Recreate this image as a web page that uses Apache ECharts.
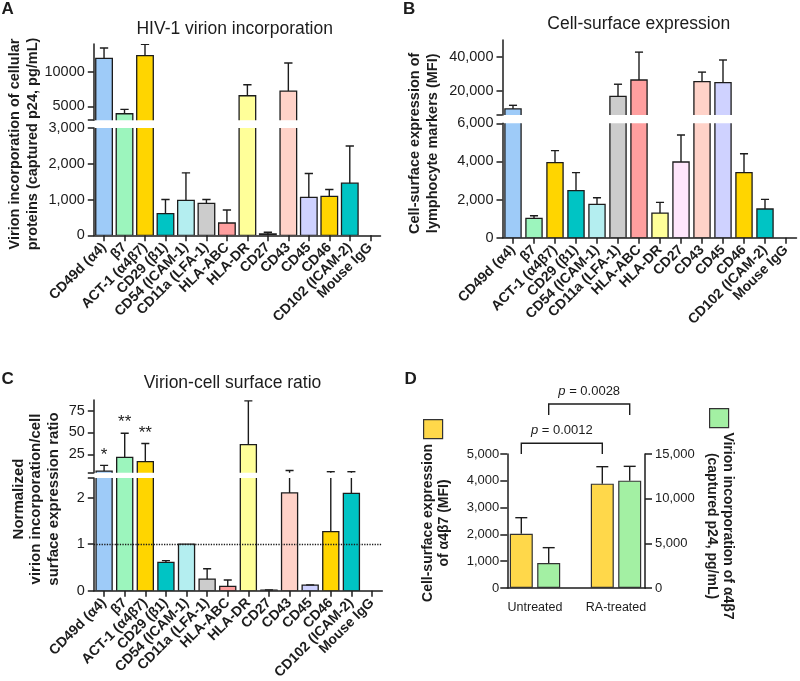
<!DOCTYPE html>
<html><head><meta charset="utf-8">
<script src="https://cdn.jsdelivr.net/npm/echarts@6/dist/echarts.min.js"></script>
<style>html,body{margin:0;padding:0;background:#fff}#c{width:800px;height:681px}</style>
</head><body><div id="c"></div>
<script>
// ---------- data ----------
const categories = ['CD49d (α4)','β7','ACT-1 (α4β7)','CD29 (β1)','CD54 (ICAM-1)','CD11a (LFA-1)','HLA-ABC','HLA-DR','CD27','CD43','CD45','CD46','CD102 (ICAM-2)','Mouse IgG'];
const barColors = ['#9ecbf8','#9cf5bd','#ffd500','#00c4c4','#b4eef0','#cccccc','#ff9f9f','#ffff99','#ffe6fb','#ffd2c8','#cfd2ff','#ffd500','#00c4c4','#ffffff'];

const virionIncorporation    = [11930, 3930, 12310, 604, 975, 892, 344, 6530, 37, 7200, 1059, 1087, 1458, 0];
const virionIncorporationErr = [13420, 4560, 13950, 1003, 1746, 1003, 706, 8120, 84, 11260, 1728, 1282, 2498, 0];
const surfaceExpression      = [9600, 1015, 3936, 2466, 1749, 16880, 26530, 1294, 3971, 25550, 24970, 3411, 1504, 0];
const surfaceExpressionErr   = [11680, 1155, 4566, 3411, 2099, 24050, 42890, 1854, 5388, 31160, 38270, 4400, 2012, 0];
const virionCellRatio        = [5.8, 21.5, 16.6, 0.61, 1.0, 0.25, 0.093, 36.1, 0.01, 2.1, 0.12, 1.27, 2.09, 0];
const virionCellRatioErr     = [12.4, 49, 37.3, 0.645, 1.0, 0.47, 0.23, 86, 0.015, 6.5, 0.125, 5, 5, 0];
const ratioSignificance      = ['*','**','**','','','','','','','','','','',''];
const ratioReference = 1;

const ticksAUpper = [3000, 5000, 10000], labelsAUpper = [5000, 10000];
const ticksALower = [0, 1000, 2000, 3000];
const ticksBUpper = [6000, 20000, 40000], labelsBUpper = [20000, 40000];
const ticksBLower = [0, 2000, 4000, 6000];
const ticksCUpper = [4, 25, 50, 75], labelsCUpper = [25, 50, 75];
const ticksCLower = [0, 1, 2, 2.42], labelsCLower = [0, 1, 2];

const dGroups = ['Untreated', 'RA-treated'];
const dSurface = [2027, 3893], dSurfaceErr = [2624, 4527];
const dVirion = [2799, 12015], dVirionErr = [4515, 13619];
const dPLabels = ['p = 0.0012', 'p = 0.0028'];
const dPBarSide = [0, 1];          // 0 = surface bars, 1 = virion bars
const dPLow = [5000, 6455];        // bracket leg bottom (left-axis units)
const dPHigh = [5400, 6866];       // bracket bar height (left-axis units)

// ---------- styling ----------
const FONT = 'Liberation Sans, Arial, sans-serif';
const INK = '#1c1c1c';
const D_BAR_W = 23, D_BAR_GAP = 4.4;

const comma = v => Number(v).toLocaleString('en-US');

function brokenBars(widthRatio, stars) {
  return function (params, api) {
    const i = api.value(0), v = api.value(1), e = api.value(2);
    if (!(v > 0)) return null;
    const band = api.size([1, 0])[0];
    const w = band * widthRatio;
    const p0 = api.coord([i, 0]), p1 = api.coord([i, v]), pe = api.coord([i, e]);
    const cx = p0[0], cap = w * 0.5;
    const ch = [{
      type: 'rect',
      shape: { x: cx - w / 2, y: p1[1], width: w, height: p0[1] - p1[1] },
      style: { fill: barColors[i], stroke: INK, lineWidth: 1.3 }
    }];
    if (e > v) {
      ch.push({ type: 'line', shape: { x1: cx, y1: p1[1], x2: cx, y2: pe[1] }, style: { stroke: INK, lineWidth: 1.4 } });
      ch.push({ type: 'line', shape: { x1: cx - cap / 2, y1: pe[1], x2: cx + cap / 2, y2: pe[1] }, style: { stroke: INK, lineWidth: 1.4 } });
    }
    if (stars && stars[i]) {
      ch.push({ type: 'text', x: cx, y: pe[1] - 2,
        style: { text: stars[i], fontSize: 17, fontFamily: FONT, fill: INK, align: 'center', textAlign: 'center', verticalAlign: 'bottom', textVerticalAlign: 'bottom' } });
    }
    return { type: 'group', children: ch };
  };
}

function dErr(offset) {
  return function (params, api) {
    const i = api.value(0), v = api.value(1), e = api.value(2);
    const p1 = api.coord([i, v]), pe = api.coord([i, e]);
    const x = p1[0] + offset;
    return { type: 'group', children: [
      { type: 'line', shape: { x1: x, y1: p1[1], x2: x, y2: pe[1] }, style: { stroke: INK, lineWidth: 1.4 } },
      { type: 'line', shape: { x1: x - 6, y1: pe[1], x2: x + 6, y2: pe[1] }, style: { stroke: INK, lineWidth: 1.4 } }
    ]};
  };
}

function dBracket(params, api) {
  const side = api.value(3), low = api.value(1), high = api.value(2), li = api.value(4);
  const off = (side === 0 ? -1 : 1) * (D_BAR_W + D_BAR_GAP) / 2;
  const a = api.coord([0, low]), b = api.coord([1, low]), h = api.coord([0, high]);
  const x1 = a[0] + off, x2 = b[0] + off;
  return { type: 'group', children: [
    { type: 'polyline', shape: { points: [[x1, a[1]], [x1, h[1]], [x2, h[1]], [x2, b[1]]] }, style: { stroke: INK, lineWidth: 1.4, fill: null } },
    { type: 'text', x: (x1 + x2) / 2, y: h[1] - 12.5,
      style: { text: '{i|p} ' + dPLabels[li].slice(2), rich: { i: { fontStyle: 'italic', fontSize: 13, fontFamily: FONT, fill: INK } },
        fontSize: 13, fontFamily: FONT, fill: INK, align: 'center', textAlign: 'center', verticalAlign: 'middle', textVerticalAlign: 'middle' } }
  ]};
}

const axisLineStyle = { color: INK, width: 1.5 };
function yAx(gridIndex, min, max, ticks, labels, fmt) {
  return {
    type: 'value', gridIndex, min, max,
    axisLine: { show: true, lineStyle: axisLineStyle },
    axisTick: { show: true, length: 6, lineStyle: axisLineStyle, customValues: ticks },
    axisLabel: { show: true, customValues: labels, formatter: fmt, fontSize: 14.5, fontFamily: FONT, color: INK, margin: 9 },
    splitLine: { show: false }
  };
}
function xCat(gridIndex, visible) {
  if (!visible) return { type: 'category', gridIndex, data: categories, show: false };
  return {
    type: 'category', gridIndex, data: categories, boundaryGap: true,
    axisLine: { show: true, lineStyle: axisLineStyle },
    axisTick: { show: true, alignWithLabel: true, length: 6, lineStyle: axisLineStyle },
    axisLabel: { interval: 0, rotate: 45, fontSize: 14, fontWeight: 'bold', fontFamily: FONT, color: INK, margin: 10 },
    splitLine: { show: false }
  };
}
const rows = (vals, errs) => categories.map((c, i) => [i, vals[i], errs[i]]);
function txt(text, x, y, size, weight, rotation, lh) {
  return { type: 'text', x, y, rotation: rotation || 0,
    style: { text, fontSize: size, fontWeight: weight, fontFamily: FONT, fill: INK, lineHeight: lh || size,
      align: 'center', textAlign: 'center', verticalAlign: 'middle', textVerticalAlign: 'middle' } };
}
function letter(text, x, y) {
  return { type: 'text', x, y, style: { text, fontSize: 17, fontWeight: 'bold', fontFamily: FONT, fill: INK,
    align: 'left', textAlign: 'left', verticalAlign: 'middle', textVerticalAlign: 'middle' } };
}

const chart = echarts.init(document.getElementById('c'), null, { renderer: 'canvas' });
const g = (left, top, width, height) => ({ left, top, width, height, containLabel: false, outerBoundsMode: 'none' });

chart.setOption({
  animation: false,
  backgroundColor: '#fff',
  textStyle: { fontFamily: FONT },
  grid: [
    g(93.8, 44, 286.7, 76.2),    // 0 A upper
    g(93.8, 128, 286.7, 107.3),  // 1 A lower
    g(502.5, 40, 294, 75),       // 2 B upper
    g(502.5, 123.3, 294, 114.4), // 3 B lower
    g(93.8, 400, 288.5, 72.7),   // 4 C upper
    g(93.8, 478, 288.5, 112.7),  // 5 C lower
    g(494.5, 454, 162, 134),     // 6 D bars
    g(507.3, 454, 137.7, 134)    // 7 D axes
  ],
  xAxis: [
    xCat(0, false), xCat(1, true), xCat(2, false), xCat(3, true), xCat(4, false), xCat(5, true),
    { type: 'category', gridIndex: 6, data: dGroups, boundaryGap: true,
      axisLine: { show: false }, axisTick: { show: false },
      axisLabel: { fontSize: 12.5, fontFamily: FONT, color: INK, margin: 13 } },
    { type: 'value', gridIndex: 7, min: 0, max: 1, axisLine: { show: true, onZero: false, lineStyle: axisLineStyle },
      axisTick: { show: false }, axisLabel: { show: false }, splitLine: { show: false } }
  ],
  yAxis: [
    yAx(0, 3000, 14000, ticksAUpper, labelsAUpper, v => String(v)),
    yAx(1, 0, 3000, ticksALower, ticksALower, comma),
    yAx(2, 6000, 50000, ticksBUpper, labelsBUpper, comma),
    yAx(3, 0, 6000, ticksBLower, ticksBLower, comma),
    yAx(4, 4, 87, ticksCUpper, labelsCUpper, v => String(v)),
    yAx(5, 0, 2.42, ticksCLower, labelsCLower, v => String(v)),
    { type: 'value', gridIndex: 6, min: 0, max: 5000, show: false },
    { type: 'value', gridIndex: 6, min: 0, max: 15000, show: false, position: 'right' },
    { type: 'value', gridIndex: 7, min: 0, max: 5000, interval: 1000,
      axisLine: { show: true, lineStyle: axisLineStyle }, axisTick: { show: true, length: 7, lineStyle: axisLineStyle },
      axisLabel: { formatter: comma, fontSize: 13, fontFamily: FONT, color: INK, margin: 8 }, splitLine: { show: false } },
    { type: 'value', gridIndex: 7, min: 0, max: 15000, interval: 5000, position: 'right',
      axisLine: { show: true, lineStyle: axisLineStyle }, axisTick: { show: true, length: 7, lineStyle: axisLineStyle },
      axisLabel: { formatter: comma, fontSize: 13, fontFamily: FONT, color: INK, margin: 10 }, splitLine: { show: false } }
  ],
  legend: [
    { left: 423, top: 419, padding: 0, itemWidth: 19, itemHeight: 19, icon: 'rect', selectedMode: false,
      data: ['Cell-surface expression of α4β7'], formatter: () => '', itemStyle: { borderColor: '#333', borderWidth: 1.2 } },
    { left: 709, top: 408, padding: 0, itemWidth: 19, itemHeight: 19, icon: 'rect', selectedMode: false,
      data: ['Virion incorporation of α4β7'], formatter: () => '', itemStyle: { borderColor: '#333', borderWidth: 1.2 } }
  ],
  series: [
    { type: 'custom', xAxisIndex: 0, yAxisIndex: 0, clip: true, encode: { x: 0, y: 1 }, renderItem: brokenBars(0.81), data: rows(virionIncorporation, virionIncorporationErr) },
    { type: 'custom', xAxisIndex: 1, yAxisIndex: 1, clip: true, encode: { x: 0, y: 1 }, renderItem: brokenBars(0.81), data: rows(virionIncorporation, virionIncorporationErr) },
    { type: 'custom', xAxisIndex: 2, yAxisIndex: 2, clip: true, encode: { x: 0, y: 1 }, renderItem: brokenBars(0.77), data: rows(surfaceExpression, surfaceExpressionErr) },
    { type: 'custom', xAxisIndex: 3, yAxisIndex: 3, clip: true, encode: { x: 0, y: 1 }, renderItem: brokenBars(0.77), data: rows(surfaceExpression, surfaceExpressionErr) },
    { type: 'custom', xAxisIndex: 4, yAxisIndex: 4, clip: true, encode: { x: 0, y: 1 }, renderItem: brokenBars(0.78, ratioSignificance), data: rows(virionCellRatio, virionCellRatioErr) },
    { type: 'custom', xAxisIndex: 5, yAxisIndex: 5, clip: true, encode: { x: 0, y: 1 }, renderItem: brokenBars(0.78), data: rows(virionCellRatio, virionCellRatioErr) },
    { type: 'line', xAxisIndex: 5, yAxisIndex: 5, data: categories.map(() => null), showSymbol: false, silent: true,
      markLine: { silent: true, symbol: ['none', 'none'], label: { show: false },
        lineStyle: { type: 'dotted', color: INK, width: 1.3 }, data: [{ yAxis: ratioReference }] } },
    { type: 'bar', name: 'Cell-surface expression of α4β7', xAxisIndex: 6, yAxisIndex: 6, barWidth: D_BAR_W, barGap: (D_BAR_GAP / D_BAR_W * 100) + '%',
      itemStyle: { color: '#ffd84a', borderColor: '#333', borderWidth: 1.2 }, data: dSurface },
    { type: 'bar', name: 'Virion incorporation of α4β7', xAxisIndex: 6, yAxisIndex: 7, barWidth: D_BAR_W,
      itemStyle: { color: '#a3f0a3', borderColor: '#333', borderWidth: 1.2 }, data: dVirion },
    { type: 'custom', xAxisIndex: 6, yAxisIndex: 6, encode: { x: 0, y: 1 }, renderItem: dErr(-(D_BAR_W + D_BAR_GAP) / 2),
      data: dGroups.map((c, i) => [i, dSurface[i], dSurfaceErr[i]]) },
    { type: 'custom', xAxisIndex: 6, yAxisIndex: 7, encode: { x: 0, y: 1 }, renderItem: dErr((D_BAR_W + D_BAR_GAP) / 2),
      data: dGroups.map((c, i) => [i, dVirion[i], dVirionErr[i]]) },
    { type: 'custom', xAxisIndex: 6, yAxisIndex: 6, encode: { x: 0, y: 1 }, renderItem: dBracket,
      data: dPLabels.map((l, k) => [0, dPLow[k], dPHigh[k], dPBarSide[k], k]) }
  ],
  graphic: { elements: [
    letter('A', 1.5, 9.5), letter('B', 403, 9.5), letter('C', 1.5, 379.5), letter('D', 404.5, 379.5),
    txt('HIV-1 virion incorporation', 234.7, 29.5, 17.5, 'normal'),
    txt('Cell-surface expression', 638.7, 24.5, 17.5, 'normal'),
    txt('Virion-cell surface ratio', 232.5, 383.3, 17.5, 'normal'),
    txt('Virion incorporation of cellular\nproteins (captured p24, pg/mL)', 24.2, 144, 14.5, 'bold', Math.PI / 2, 18.3),
    txt('Cell-surface expression of\nlymphocyte markers (MFI)', 424.2, 143.3, 14.5, 'bold', Math.PI / 2, 18.3),
    txt('Normalized\nvirion incorporation/cell\nsurface expression ratio', 36, 499, 15, 'bold', Math.PI / 2, 17.5),
    txt('Cell-surface expression\nof α4β7 (MFI)', 436.3, 523, 14, 'bold', Math.PI / 2, 16),
    txt('Virion incorporation of α4β7\n(captured p24, pg/mL)', 720, 526, 14, 'bold', -Math.PI / 2, 16.6)
  ] }
});
</script></body></html>
